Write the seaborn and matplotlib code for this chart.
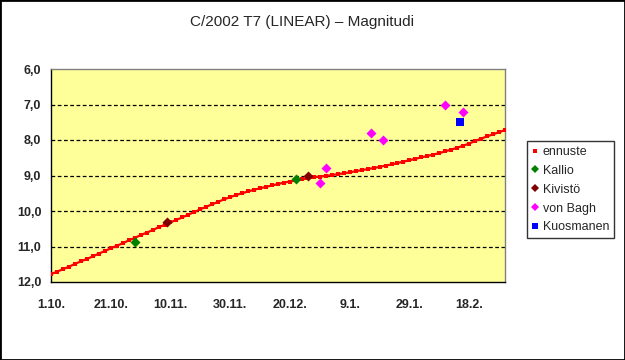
import datetime as dt
import matplotlib
matplotlib.use('Agg')
import matplotlib.pyplot as plt
from matplotlib.lines import Line2D
from matplotlib.patches import Rectangle
from matplotlib.ticker import FuncFormatter
import pandas as pd
import seaborn as sns

# Ennuste (predicted magnitude), one value every 2 days from 1.10.2003
alku = dt.date(2003, 10, 1)
ennuste = [11.78, 11.71, 11.64, 11.57, 11.49, 11.42, 11.35, 11.28, 11.20, 11.13,
           11.05, 10.98, 10.91, 10.83, 10.76, 10.68, 10.61, 10.54, 10.46, 10.39,
           10.32, 10.25, 10.18, 10.10, 10.03, 9.95, 9.88, 9.81, 9.74, 9.67,
           9.61, 9.55, 9.50, 9.45, 9.40, 9.36, 9.32, 9.28, 9.24, 9.20,
           9.17, 9.14, 9.11, 9.08, 9.05, 9.03, 9.01, 8.99, 8.96, 8.94,
           8.91, 8.88, 8.85, 8.82, 8.79, 8.76, 8.72, 8.69, 8.65, 8.61,
           8.57, 8.53, 8.49, 8.45, 8.41, 8.37, 8.32, 8.27, 8.22, 8.16,
           8.10, 8.03, 7.96, 7.90, 7.84, 7.78, 7.72]
ennuste_pvm = [alku + dt.timedelta(days=2 * i) for i in range(len(ennuste))]

# Havainnot
kallio_pvm = ['2003-10-29', '2003-12-22']
kallio_mag = [10.88, 9.10]
kivisto_pvm = ['2003-11-09', '2003-12-26']
kivisto_mag = [10.30, 9.00]
vonbagh_pvm = ['2003-12-30', '2004-01-01', '2004-01-16', '2004-01-20', '2004-02-10', '2004-02-16']
vonbagh_mag = [9.20, 8.78, 7.79, 8.00, 7.01, 7.21]
kuosmanen_pvm = ['2004-02-15']
kuosmanen_mag = [7.48]

sns.set_style('white')
plt.rcParams['font.family'] = ['Liberation Sans', 'DejaVu Sans']

fig = plt.figure(figsize=(6.25, 3.6), dpi=100)
ax = fig.add_axes([51 / 625, 1 - 282 / 360, 454 / 625, 213 / 360])
ax.set_facecolor('#FFFF99')

df_enn = pd.DataFrame({'pvm': pd.to_datetime(ennuste_pvm), 'mag': ennuste})
sns.lineplot(data=df_enn, x='pvm', y='mag', ax=ax, color='red', linewidth=1.6,
             marker='s', markersize=2.6, markeredgewidth=0, zorder=3)

havainnot = [
    (kallio_pvm, kallio_mag, '#008000', 'D', 26),
    (kivisto_pvm, kivisto_mag, '#800000', 'D', 26),
    (vonbagh_pvm, vonbagh_mag, '#FF00FF', 'D', 26),
    (kuosmanen_pvm, kuosmanen_mag, '#0000FF', 's', 28),
]
for pvm, mag, vari, merkki, koko in havainnot:
    d = pd.DataFrame({'pvm': pd.to_datetime(pvm), 'mag': mag})
    sns.scatterplot(data=d, x='pvm', y='mag', ax=ax, color=vari, marker=merkki,
                    s=koko, linewidth=0, zorder=4)

# Akselit
ax.set_xlim(pd.Timestamp('2003-10-01'), pd.Timestamp('2004-03-01'))
ax.set_ylim(12, 6)
ax.set_yticks([6, 7, 8, 9, 10, 11, 12])
ax.yaxis.set_major_formatter(FuncFormatter(lambda v, p: f'{v:.1f}'.replace('.', ',')))

xt = [pd.Timestamp('2003-10-01') + pd.Timedelta(days=5 * i) for i in range(31)]
ax.set_xticks(xt)
ax.set_xticklabels([f'{t.day}.{t.month}.' if i % 4 == 0 else '' for i, t in enumerate(xt)])

for yv in [7, 8, 9, 10, 11]:
    ax.axhline(yv, color='black', linestyle=(0, (3, 2)), linewidth=0.9, zorder=1)

ax.tick_params(axis='both', which='both', direction='out', length=4, width=1,
               color='black', labelsize=9, pad=3)
ax.tick_params(axis='x', pad=8)
for lab in ax.get_xticklabels() + ax.get_yticklabels():
    lab.set_fontweight('bold')

ax.spines['left'].set_color('black')
ax.spines['bottom'].set_color('black')
ax.spines['top'].set_color('#808080')
ax.spines['right'].set_color('#808080')
for s in ax.spines.values():
    s.set_visible(True)
    s.set_linewidth(1)
ax.set_xlabel('')
ax.set_ylabel('')

# Selite
kahvat = [
    Line2D([], [], color='red', marker='s', markersize=2.6, linestyle='none', markeredgewidth=0),
    Line2D([], [], color='#008000', marker='D', markersize=4.5, linestyle='none', markeredgewidth=0),
    Line2D([], [], color='#800000', marker='D', markersize=4.5, linestyle='none', markeredgewidth=0),
    Line2D([], [], color='#FF00FF', marker='D', markersize=4.5, linestyle='none', markeredgewidth=0),
    Line2D([], [], color='#0000FF', marker='s', markersize=4.5, linestyle='none', markeredgewidth=0),
]
leg = fig.legend(kahvat, ['ennuste', 'Kallio', 'Kivistö', 'von Bagh', 'Kuosmanen'],
                 loc='upper left', bbox_to_anchor=(527 / 625, 1 - 141 / 360),
                 frameon=True, fancybox=False, fontsize=9, handlelength=0.5,
                 handletextpad=0.35, labelspacing=0.55, borderpad=0.4, borderaxespad=0)
leg.get_frame().set_edgecolor('black')
leg.get_frame().set_linewidth(1)

fig.text(302 / 625, 1 - 22 / 360, 'C/2002 T7 (LINEAR) – Magnitudi', ha='center', va='center',
         fontsize=11)

fig.add_artist(Rectangle((0, 0), 1, 1, transform=fig.transFigure, fill=False,
                         edgecolor='black', linewidth=2))

fig.savefig('out.png', dpi=100)
